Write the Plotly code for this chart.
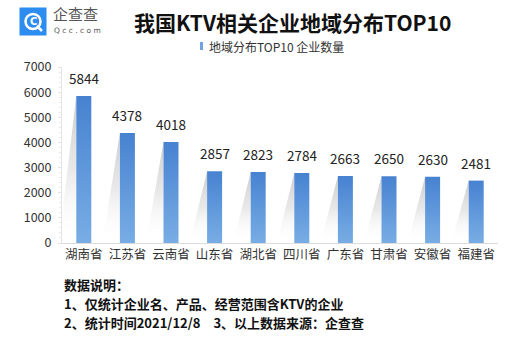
import plotly.graph_objects as go

provinces = ["湖南省", "江苏省", "云南省", "山东省", "湖北省", "四川省", "广东省", "甘肃省", "安徽省", "福建省"]
counts = [5844, 4378, 4018, 2857, 2823, 2784, 2663, 2650, 2630, 2481]
y_ticks = [0, 1000, 2000, 3000, 4000, 5000, 6000, 7000]

title_text = "我国KTV相关企业地域分布TOP10"
series_name = "地域分布TOP10 企业数量"
notes = [
    "数据说明：",
    "1、仅统计企业名、产品、经营范围含KTV的企业",
    "2、统计时间2021/12/8　3、以上数据来源：企查查",
]

FONT = "Noto Sans CJK SC"
HALF_W = 0.172      # half bar width in category units
SHADOW = 0.40       # how far the cast shadow reaches to the left

fig = go.Figure()

for i, v in enumerate(counts):
    left, right = i - HALF_W, i + HALF_W
    # soft cast shadow to the left of each bar
    fig.add_trace(go.Scatter(
        x=[left, left - SHADOW, left, left], y=[v, 0, 0, v],
        mode="lines", line=dict(width=0), fill="toself",
        fillgradient=dict(type="vertical",
                          colorscale=[[0, "rgba(255,255,255,0)"],
                                      [0.5, "rgba(205,205,205,0.45)"],
                                      [1, "rgba(180,180,180,0.7)"]]),
        hoverinfo="skip", showlegend=False))
    # the bar itself, darker blue at the top
    fig.add_trace(go.Scatter(
        x=[left, right, right, left, left], y=[0, 0, v, v, 0],
        mode="lines", line=dict(width=0), fill="toself",
        fillgradient=dict(type="vertical",
                          colorscale=[[0, "#78ade4"], [1, "#4782d1"]]),
        name=provinces[i], hoverinfo="x+y", showlegend=False))

# value labels above the bars
for i, v in enumerate(counts):
    fig.add_annotation(x=i, y=v, text=str(v), showarrow=False,
                       yanchor="bottom", yshift=6,
                       font=dict(family=FONT, size=13.5, color="#222"))

fig.update_layout(
    width=529, height=337,
    margin=dict(l=62, r=31, t=67, b=94),
    paper_bgcolor="white", plot_bgcolor="white",
    showlegend=False,
    font=dict(family=FONT, color="#333"),
    xaxis=dict(range=[-0.5, 9.5], tickvals=list(range(len(provinces))),
               ticktext=provinces, showgrid=False, zeroline=False,
               showline=True, linecolor="#dcdcdc", linewidth=1,
               ticks="", tickfont=dict(size=12.5, color="#333"), fixedrange=True),
    yaxis=dict(range=[0, 7000], tickvals=y_ticks, showgrid=False, zeroline=False,
               showline=True, linecolor="#e4e4e4", linewidth=1,
               ticks="outside", ticklen=3, tickcolor="#e4e4e4",
               minor=dict(ticks="outside", ticklen=2, tickcolor="#ececec", dtick=200),
               tickfont=dict(size=12.5, color="#333"), ticklabelstandoff=4,
               fixedrange=True),
)

px = lambda x: (x - 62) / 436
py = lambda y: 1 + (67 - y) / 176

# title
fig.add_annotation(xref="paper", yref="paper", x=px(292), y=py(22),
                   text="<b>" + title_text + "</b>", showarrow=False,
                   xanchor="center", yanchor="middle",
                   font=dict(family=FONT, size=21, color="#111"))

# legend: small marker + series name
fig.add_shape(type="rect", xref="paper", yref="paper",
              x0=px(200), x1=px(203), y0=py(50), y1=py(42),
              fillcolor="#6fa3dd", line=dict(width=0))
fig.add_annotation(xref="paper", yref="paper", x=px(207), y=py(46.5),
                   text=series_name, showarrow=False, xanchor="left", yanchor="middle",
                   font=dict(family=FONT, size=12, color="#333"))

# brand mark in the top-left corner
fig.add_shape(type="rect", xref="paper", yref="paper",
              x0=px(21), x1=px(45), y0=py(34), y1=py(9),
              fillcolor="#2d8cf0", line=dict(color="#2d8cf0", width=3))
fig.add_shape(type="circle", xref="paper", yref="paper",
              x0=px(25.5), x1=px(40.5), y0=py(29), y1=py(14),
              fillcolor="rgba(0,0,0,0)", line=dict(color="white", width=2.5))
fig.add_shape(type="line", xref="paper", yref="paper",
              x0=px(37), x1=px(42), y0=py(26), y1=py(31),
              line=dict(color="white", width=2.5))
fig.add_annotation(xref="paper", yref="paper", x=px(33), y=py(21.5),
                   text="<b>C</b>", showarrow=False, xanchor="center", yanchor="middle",
                   font=dict(family="DejaVu Sans", size=10, color="white"))
fig.add_annotation(xref="paper", yref="paper", x=px(51), y=py(14),
                   text="企查查", showarrow=False, xanchor="left", yanchor="middle",
                   font=dict(family=FONT, size=15, color="#555"))
fig.add_annotation(xref="paper", yref="paper", x=px(52), y=py(31),
                   text="Q c c . c o m", showarrow=False, xanchor="left", yanchor="middle",
                   font=dict(family="DejaVu Sans", size=7.5, color="#555"))

# notes under the chart, one line each
for k, line in enumerate(notes):
    fig.add_annotation(xref="paper", yref="paper", x=px(62), y=py(284.5 + 19 * k),
                       text="<b>" + line + "</b>", showarrow=False,
                       xanchor="left", yanchor="middle",
                       font=dict(family=FONT, size=13, color="#111"))

fig.write_html("out.html")
